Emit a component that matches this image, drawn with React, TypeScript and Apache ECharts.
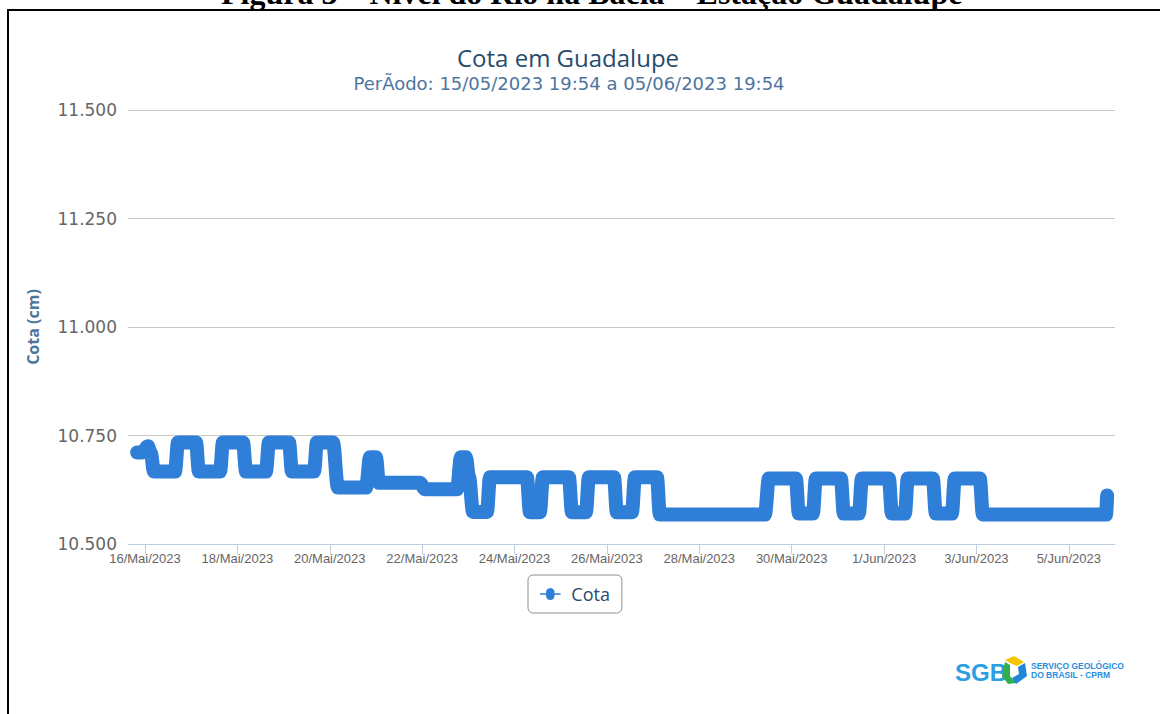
import React, { useEffect, useRef } from 'react';
import * as echarts from 'echarts';

const captionText = 'Figura 3 – Nível do Rio na Bacia – Estação Guadalupe';
const chartTitle = 'Cota em Guadalupe';
const chartSubtitle = 'PerÃodo: 15/05/2023 19:54 a 05/06/2023 19:54';
const yAxisName = 'Cota (cm)';
const seriesName = 'Cota';
const logoMain = 'SGB';
const logoLine1 = 'SERVIÇO GEOLÓGICO';
const logoLine2 = 'DO BRASIL - CPRM';

// readings of the "Cota" series (time, cm)
const cotaTimes = [
  '2023-05-15 19:54', '2023-05-15 22:30', '2023-05-16 01:30', '2023-05-16 03:00', '2023-05-16 04:40',
  '2023-05-16 15:35', '2023-05-16 17:10', '2023-05-17 02:30', '2023-05-17 04:00', '2023-05-17 15:00',
  '2023-05-17 16:30', '2023-05-18 02:55', '2023-05-18 04:30', '2023-05-18 14:50', '2023-05-18 16:25',
  '2023-05-19 02:50', '2023-05-19 04:20', '2023-05-19 15:50', '2023-05-19 17:20', '2023-05-20 01:40',
  '2023-05-20 04:15', '2023-05-20 18:50', '2023-05-20 20:55', '2023-05-21 00:00', '2023-05-21 01:35',
  '2023-05-21 22:50', '2023-05-22 01:30', '2023-05-22 18:05', '2023-05-22 20:10', '2023-05-22 22:45',
  '2023-05-23 00:20', '2023-05-23 02:25', '2023-05-23 09:40', '2023-05-23 11:15', '2023-05-24 06:25',
  '2023-05-24 08:00', '2023-05-24 13:10', '2023-05-24 14:45', '2023-05-25 04:15', '2023-05-25 05:50',
  '2023-05-25 13:05', '2023-05-25 14:40', '2023-05-26 03:40', '2023-05-26 05:10', '2023-05-26 13:00',
  '2023-05-26 14:35', '2023-05-27 02:00', '2023-05-27 03:30', '2023-05-29 10:05', '2023-05-29 12:10',
  '2023-05-30 02:10', '2023-05-30 03:45', '2023-05-30 11:00', '2023-05-30 12:35', '2023-05-31 01:35',
  '2023-05-31 03:05', '2023-05-31 10:55', '2023-05-31 12:30', '2023-06-01 02:30', '2023-06-01 04:05',
  '2023-06-01 10:50', '2023-06-01 12:20', '2023-06-02 01:20', '2023-06-02 02:55', '2023-06-02 11:15',
  '2023-06-02 12:45', '2023-06-03 01:45', '2023-06-03 03:20', '2023-06-05 19:20', '2023-06-05 19:54',
];
const cotaValues = [
  10711, 10711, 10725, 10710, 10667,
  10667, 10734, 10734, 10667, 10667,
  10734, 10734, 10667, 10667, 10734,
  10734, 10667, 10667, 10734, 10734,
  10630, 10630, 10700, 10700, 10641,
  10641, 10626, 10626, 10700, 10700,
  10655, 10574, 10574, 10654, 10654,
  10573, 10573, 10654, 10654, 10573,
  10573, 10654, 10654, 10573, 10573,
  10654, 10654, 10568, 10568, 10651,
  10651, 10570, 10570, 10651, 10651,
  10570, 10570, 10651, 10651, 10570,
  10570, 10651, 10651, 10570, 10570,
  10651, 10651, 10568, 10568, 10612,
];

const yMin = 10500;
const yMax = 11500;
const yStep = 250;
const xRange = ['2023-05-15 15:10', '2023-06-06 00:00'];
const xTickDates = [
  '2023-05-16 00:00', '2023-05-18 00:00', '2023-05-20 00:00', '2023-05-22 00:00',
  '2023-05-24 00:00', '2023-05-26 00:00', '2023-05-28 00:00', '2023-05-30 00:00',
  '2023-06-01 00:00', '2023-06-03 00:00', '2023-06-05 00:00',
];
const xTickLabels = [
  '16/Mai/2023', '18/Mai/2023', '20/Mai/2023', '22/Mai/2023', '24/Mai/2023', '26/Mai/2023',
  '28/Mai/2023', '30/Mai/2023', '1/Jun/2023', '3/Jun/2023', '5/Jun/2023',
];

function parseT(s: string): number {
  const [d, t] = s.split(' ');
  const [Y, M, D] = d.split('-').map(Number);
  const [h, m] = t.split(':').map(Number);
  return new Date(Y, M - 1, D, h, m).getTime();
}

function fmtThousands(v: number): string {
  const k = Math.floor(v / 1000);
  const r = Math.round(v - k * 1000);
  return k + '.' + String(r).padStart(3, '0');
}

const legendIcon =
  'path://M0,5 H7.1 A5,5 0 1 1 16.9,5 H24 V7 H16.9 A5,5 0 1 1 7.1,7 H0 Z';

export default function App() {
  const ref = useRef<HTMLDivElement>(null);
  useEffect(() => {
    if (!ref.current) return;
    const chart = echarts.init(ref.current, null, { renderer: 'svg' });
    const tickTs = xTickDates.map(parseT);
    const data = cotaTimes.map((t, i) => [parseT(t), cotaValues[i]]);
    const option: any = {
      animation: false,
      backgroundColor: '#ffffff',
      grid: { left: 128, right: 45, top: 110, bottom: 170, containLabel: false },
      xAxis: {
        type: 'value',
        min: parseT(xRange[0]),
        max: parseT(xRange[1]),
        axisLine: { show: true, lineStyle: { color: '#C0D0E0', width: 1 } },
        axisTick: { show: true, customValues: tickTs, length: 10, lineStyle: { color: '#C0D0E0' } },
        splitLine: { show: false },
        axisLabel: {
          customValues: tickTs,
          color: '#666666',
          fontFamily: '"Liberation Sans", Arial, sans-serif',
          fontSize: 13,
          margin: 8,
          formatter: (v: number) => {
            const i = tickTs.indexOf(v);
            return i >= 0 ? xTickLabels[i] : '';
          },
        },
      },
      yAxis: {
        type: 'value',
        min: yMin,
        max: yMax,
        interval: yStep,
        name: yAxisName,
        nameLocation: 'middle',
        nameGap: 87,
        nameTextStyle: { color: '#4d759e', fontWeight: 'bold', fontSize: 16, fontFamily: '"Open Sans", sans-serif' },
        axisLine: { show: false },
        axisTick: { show: false },
        splitLine: { show: true, lineStyle: { color: '#C8C8C8', width: 1 } },
        axisLabel: {
          color: '#666666',
          fontFamily: '"DejaVu Sans", Verdana, sans-serif',
          fontSize: 17,
          margin: 11,
          formatter: (v: number) => fmtThousands(v),
        },
      },
      legend: {
        data: [{ name: seriesName, icon: legendIcon }],
        left: 528,
        top: 575,
        orient: 'horizontal',
        borderColor: '#909090',
        borderWidth: 1,
        borderRadius: 5,
        padding: [10, 12, 10, 12],
        itemWidth: 24,
        itemHeight: 12,
        itemGap: 0,
        textStyle: { color: '#274b6d', fontSize: 18, fontFamily: '"Open Sans", sans-serif', padding: [0, 0, 0, 4] },
      },
      series: [
        {
          name: seriesName,
          type: 'line',
          data,
          showSymbol: false,
          symbol: 'circle',
          smooth: 0.35,
          smoothMonotone: 'x',
          color: '#2f7ed8',
          itemStyle: { color: '#2f7ed8' },
          lineStyle: { width: 14, color: '#2f7ed8', cap: 'round', join: 'round' },
        },
      ],
      graphic: [
        { type: 'line', shape: { x1: 7, y1: 10, x2: 1160, y2: 10 }, style: { stroke: '#000', lineWidth: 2 } },
        { type: 'line', shape: { x1: 8, y1: 9, x2: 8, y2: 714 }, style: { stroke: '#000', lineWidth: 2 } },
        {
          type: 'text', x: 221, y: 9,
          style: {
            text: captionText, fill: '#000', font: 'bold 32px "Liberation Serif", "Times New Roman", serif',
            textAlign: 'left', textVerticalAlign: 'bottom',
          },
        },
        {
          type: 'text', x: 568, y: 57,
          style: {
            text: chartTitle, fill: '#274b6d', font: '24px "Open Sans", sans-serif',
            textAlign: 'center', textVerticalAlign: 'middle',
          },
        },
        {
          type: 'text', x: 569, y: 83,
          style: {
            text: chartSubtitle, fill: '#4d759e', font: '18px "DejaVu Sans", Verdana, sans-serif',
            textAlign: 'center', textVerticalAlign: 'middle',
          },
        },
        {
          type: 'text', x: 955, y: 672,
          style: {
            text: logoMain,
            font: 'bold 24px "Liberation Sans", Arial, sans-serif',
            textAlign: 'left', textVerticalAlign: 'middle',
            fill: '#2a9fe3',
          },
        },
        { type: 'polygon', shape: { points: [[1005, 660], [1014, 656], [1024, 662], [1017, 666], [1010, 663]] }, style: { fill: '#f5c400' } },
        { type: 'polygon', shape: { points: [[1005, 662], [1010, 665], [1010, 676], [1016, 683], [1008, 684], [1002, 676]] }, style: { fill: '#2fae4e' } },
        { type: 'polygon', shape: { points: [[1018, 667], [1025, 663], [1027, 676], [1016, 684], [1012, 678], [1019, 674]] }, style: { fill: '#1f86d8' } },
        {
          type: 'text', x: 1031, y: 666,
          style: { text: logoLine1, fill: '#2a8ee0', font: 'bold 8.5px "Liberation Sans", Arial, sans-serif', textAlign: 'left', textVerticalAlign: 'middle' },
        },
        {
          type: 'text', x: 1031, y: 675,
          style: { text: logoLine2, fill: '#2a8ee0', font: 'bold 8.5px "Liberation Sans", Arial, sans-serif', textAlign: 'left', textVerticalAlign: 'middle' },
        },
      ],
    };
    chart.setOption(option);
    return () => chart.dispose();
  }, []);
  return (
    <div
      ref={ref}
      style={{ position: 'fixed', left: 0, top: 0, width: 1160, height: 714, background: '#fff' }}
    />
  );
}
